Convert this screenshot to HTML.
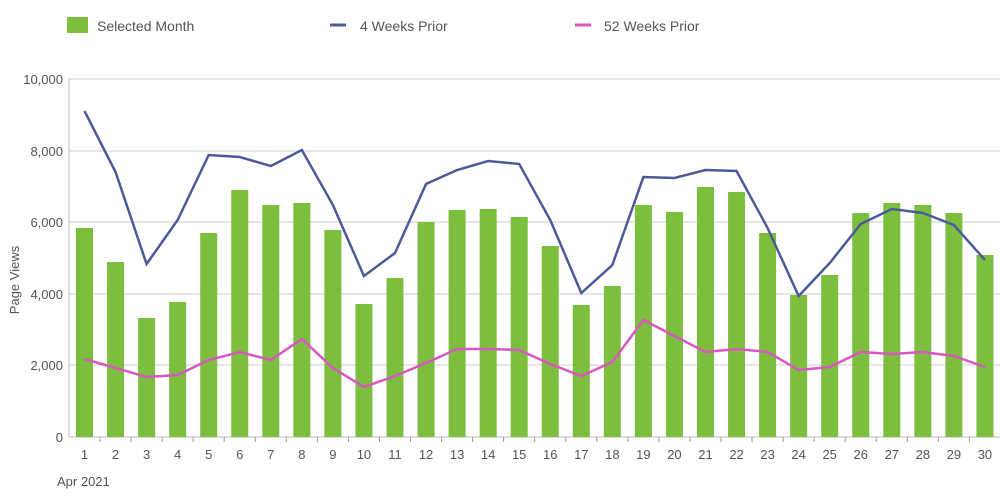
<!DOCTYPE html><html><head><style>body{margin:0;background:#fff}svg{display:block;font-family:"Liberation Sans",sans-serif}</style></head><body>
<svg width="1000" height="500" viewBox="0 0 1000 500">
<rect x="67" y="17" width="21" height="16" fill="#7cbf3f"/>
<text x="97" y="31" font-size="14" fill="#555">Selected Month</text>
<line x1="330" y1="25" x2="346" y2="25" stroke="#4d5a9a" stroke-width="3"/>
<text x="360" y="31" font-size="14" fill="#555">4 Weeks Prior</text>
<line x1="575" y1="25" x2="591" y2="25" stroke="#d957c0" stroke-width="3"/>
<text x="604" y="31" font-size="14" fill="#555">52 Weeks Prior</text>
<g stroke="#e6e6e6" stroke-width="2">
<line x1="69" y1="79" x2="1000" y2="79"/><line x1="69" y1="151" x2="1000" y2="151"/><line x1="69" y1="222" x2="1000" y2="222"/><line x1="69" y1="294" x2="1000" y2="294"/><line x1="69" y1="365" x2="1000" y2="365"/></g>
<line x1="69" y1="79" x2="69" y2="437" stroke="#bbb"/>
<line x1="69" y1="437" x2="1000" y2="437" stroke="#bbb"/>
<g font-size="13" fill="#555" text-anchor="end">
<text x="63" y="84">10,000</text><text x="63" y="156">8,000</text><text x="63" y="227">6,000</text><text x="63" y="299">4,000</text><text x="63" y="370">2,000</text><text x="63" y="442">0</text></g>
<text transform="translate(19,280) rotate(-90)" font-size="13" fill="#555" text-anchor="middle">Page Views</text>
<g id="bars" fill="#7cbf3f"></g>
<g id="ticks" font-size="13" fill="#555" text-anchor="middle"></g>
<text x="57" y="486" font-size="13" fill="#555">Apr 2021</text>
<polyline id="l4" fill="none" stroke="#4d5a9a" stroke-width="2.5"/>
<polyline id="l52" fill="none" stroke="#d957c0" stroke-width="2.5"/>
</svg>
<script>
var b=[228,262,318,302,233,190,205,203,230,304,278,222,210,209,217,246,305,286,205,212,187,192,233,295,275,213,203,205,213,255];
var a=[111,172,264,220,155,157,166,150,205,276,253,184,170,161,164,220,293,265,177,178,170,171,228,296,263,224,209,213,225,260];
var c=[359,368,377,375,360,352,360,339,368,387,376,363,349,349,350,364,376,362,320,336,352,349,352,370,367,352,354,352,356,367];
var ns="http://www.w3.org/2000/svg",B=document.getElementById("bars"),T=document.getElementById("ticks"),p4=[],p52=[];
for(var i=0;i<30;i++){var x=84.5+i*31.05;var r=document.createElementNS(ns,"rect");r.setAttribute("x",x-8.5);r.setAttribute("y",b[i]);r.setAttribute("width",17);r.setAttribute("height",437-b[i]);B.appendChild(r);
var t=document.createElementNS(ns,"text");t.setAttribute("x",x);t.setAttribute("y",459);t.textContent=i+1;T.appendChild(t);
var tk=document.createElementNS(ns,"line");tk.setAttribute("x1",x+15.5);tk.setAttribute("x2",x+15.5);tk.setAttribute("y1",437);tk.setAttribute("y2",442);tk.setAttribute("stroke","#999");T.appendChild(tk);
p4.push(x+","+a[i]);p52.push(x+","+c[i]);}
document.getElementById("l4").setAttribute("points",p4.join(" "));
document.getElementById("l52").setAttribute("points",p52.join(" "));
</script>
</body></html>
